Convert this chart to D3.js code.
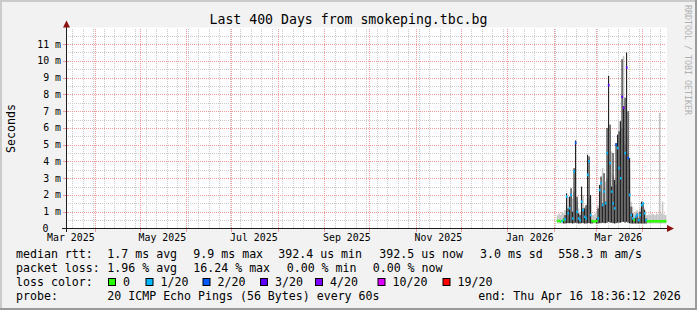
<!DOCTYPE html>
<html>
<head>
<meta charset="utf-8">
<script src="https://cdn.jsdelivr.net/npm/d3@7"></script>
<style>
    html, body { margin: 0; padding: 0; background: #f2f2f2; }
    svg { display: block; font-family: "DejaVu Sans Mono", monospace; }
</style>
</head>
<body>
<svg id="chart" width="697" height="310"></svg>
<script>
// == Daten ==
// Zeitraum des Graphen (400 Tage bis zum "end"-Zeitpunkt)
const GRAPH_START = new Date(Date.UTC(2025, 2, 12, 18, 36, 12));
const GRAPH_END = new Date(Date.UTC(2026, 3, 16, 18, 36, 12));
// Tageswerte ab 3. Feb 2026 bis 16. Apr 2026
const days = d3.utcDay.range(new Date(Date.UTC(2026, 1, 3)), new Date(Date.UTC(2026, 3, 17)));

// Untergrenze Smoke (ms)
const rttLow = [
    0.30, 0.30, 0.30, 0.30, 0.30, 0.30, 0.32, 0.32, 0.32, 0.32,
    0.30, 0.32, 0.35, 0.32, 0.30, 0.30, 0.32, 0.32, 0.30, 0.30,
    0.32, 0.32, 0.30, 0.30, 0.30, 0.30, 0.30, 0.30, 0.32, 0.32,
    0.35, 0.32, 0.32, 0.35, 0.40, 0.35, 0.35, 0.32, 0.30, 0.32,
    0.35, 0.35, 0.35, 0.40, 0.40, 0.35, 0.40, 0.35, 0.32, 0.30,
    0.30, 0.30, 0.30, 0.30, 0.30, 0.30, 0.30, 0.30, 0.30, 0.30,
    0.30, 0.30, 0.30, 0.30, 0.30, 0.30, 0.30, 0.30, 0.30, 0.30,
    0.30, 0.30, 0.30
];
// Obergrenze heller Smoke (ms)
const rttLight = [
    0.80, 0.90, 0.80, 1.00, 0.90, 1.10, 1.40, 1.90, 1.80, 2.00,
    1.80, 2.20, 3.00, 1.60, 1.20, 1.00, 1.80, 2.00, 1.30, 1.20,
    2.00, 1.80, 1.40, 0.80, 0.80, 0.90, 1.00, 1.40, 1.80, 2.20,
    3.60, 2.40, 2.80, 3.00, 4.50, 3.80, 4.60, 3.20, 2.00, 2.60,
    3.60, 6.40, 4.60, 6.00, 10.30, 5.00, 5.50, 4.50, 3.50, 1.60,
    1.30, 0.90, 1.00, 1.10, 0.90, 1.20, 1.40, 1.30, 1.20, 0.80,
    0.80, 0.85, 0.80, 0.90, 0.85, 0.80, 0.90, 0.85, 6.90, 0.90,
    1.60, 0.85, 0.80
];
// Obergrenze dichter (dunkler) Smoke (ms), 0 = keiner
const rttDark = [
    0, 0, 0, 0, 0.60, 0.80, 2.10, 1.20, 1.90, 2.40,
    1.00, 3.60, 5.25, 1.90, 0.90, 0.80, 2.50, 1.20, 1.20, 1.40,
    4.40, 4.30, 2.00, 0.50, 0, 0, 0.60, 1.20, 2.60, 3.10,
    1.50, 3.30, 1.60, 6.00, 9.10, 6.20, 2.50, 4.50, 2.90, 5.10,
    5.60, 5.80, 6.40, 10.10, 7.30, 7.80, 10.50, 7.00, 4.20, 1.30,
    0.90, 0.60, 0.70, 0.90, 0.60, 1.00, 1.60, 1.50, 1.10, 0.60,
    0, 0, 0, 0, 0, 0, 0, 0, 0, 0,
    0, 0, 0
];
// Median RTT (ms)
const rttMedian = [
    0.45, 0.45, 0.42, 0.45, 0.50, 0.55, 1.90, 0.90, 1.20, 2.00,
    0.60, 3.40, 5.10, 1.00, 0.60, 0.50, 1.60, 1.10, 0.70, 0.60,
    3.20, 4.00, 0.80, 0.45, 0.42, 0.42, 0.45, 0.60, 2.30, 2.70,
    1.40, 2.20, 1.50, 4.50, 8.55, 3.90, 2.20, 1.50, 1.20, 5.00,
    4.80, 3.60, 3.00, 7.85, 7.20, 4.50, 9.60, 4.20, 2.00, 0.80,
    0.60, 0.50, 0.70, 0.80, 0.50, 0.80, 1.40, 1.50, 0.90, 0.50,
    0.43, 0.43, 0.43, 0.43, 0.43, 0.43, 0.43, 0.43, 0.43, 0.43,
    0.43, 0.43, 0.43
];
// Paketverlust als Index in lossColors
const lossIdx = [
    0, 0, 0, 1, 0, 1, 1, 1, 1, 1,
    1, 1, 2, 1, 1, 1, 1, 1, 1, 1,
    1, 1, 1, 0, 0, 0, 0, 1, 1, 1,
    1, 1, 1, 1, 3, 1, 1, 1, 1, 2,
    1, 1, 1, 3, 4, 1, 3, 2, 1, 1,
    1, 0, 1, 1, 1, 1, 1, 1, 1, 1,
    0, 0, 0, 0, 0, 0, 0, 0, 0, 0,
    0, 0, 0
];

const lossColors = ['#26ff00', '#00b8ff', '#0059ff', '#5e00ff', '#7e00ff', '#dd00ff', '#ff0000'];
const lossLabels = ['0', '1/20', '2/20', '3/20', '4/20', '10/20', '19/20'];

const yTicks = [0, 1, 2, 3, 4, 5, 6, 7, 8, 9, 10, 11];
const yUnit = 'm';
const TITLE = 'Last 400 Days from smokeping.tbc.bg';
const Y_LABEL = 'Seconds';
const WATERMARK = 'RRDTOOL / TOBI OETIKER';

// Legendenzeilen
const rttStats = ['1.7 ms avg', '9.9 ms max', '392.4 us min', '392.5 us now', '3.0 ms sd', '558.3 m am/s'];
const lossStats = ['1.96 % avg', '16.24 % max', '0.00 % min', '0.00 % now'];
const probeText = '20 ICMP Echo Pings (56 Bytes) every 60s';
const endText = 'end: Thu Apr 16 18:36:12 2026';

// == Layout ==
const W = 697, H = 310;
const PLOT_L = 66, PLOT_R = 666, PLOT_T = 28.5, PLOT_B = 228.5;

const svg = d3.select('#chart');

const x = d3.scaleUtc().domain([GRAPH_START, GRAPH_END]).range([PLOT_L, PLOT_R]);
const y = d3.scaleLinear().domain([0, 11.93]).range([PLOT_B, PLOT_T]);

// Hintergrund + 3D-Rahmen
svg.append('rect').attr('width', W).attr('height', H).attr('fill', '#f2f2f2');
svg.append('rect').attr('x', 0).attr('y', 0).attr('width', W).attr('height', 2).attr('fill', '#cbcbcb');
svg.append('rect').attr('x', 0).attr('y', 0).attr('width', 2).attr('height', H).attr('fill', '#cbcbcb');
svg.append('rect').attr('x', 0).attr('y', H - 2).attr('width', W).attr('height', 2).attr('fill', '#9a9a9a');
svg.append('rect').attr('x', W - 2).attr('y', 0).attr('width', 2).attr('height', H).attr('fill', '#9a9a9a');

// Zeichenfläche
svg.append('rect')
    .attr('x', PLOT_L).attr('y', PLOT_T - 1)
    .attr('width', PLOT_R - PLOT_L + 1).attr('height', PLOT_B - PLOT_T + 1)
    .attr('fill', '#ffffff');

// == Gitter ==
const grid = svg.append('g').attr('shape-rendering', 'crispEdges');
const px = v => Math.round(v) + 0.5;

// Minor: wöchentlich (Montag) und 0.5 ms
const weeks = d3.utcMonday.range(GRAPH_START, GRAPH_END);
grid.selectAll('line.vmin').data(weeks).enter().append('line')
    .attr('x1', d => px(x(d))).attr('x2', d => px(x(d)))
    .attr('y1', PLOT_T).attr('y2', PLOT_B)
    .attr('stroke', '#cacaca').attr('stroke-dasharray', '1,1');
const halfSteps = yTicks.map(v => v + 0.5);
grid.selectAll('line.hmin').data(halfSteps).enter().append('line')
    .attr('x1', PLOT_L).attr('x2', PLOT_R)
    .attr('y1', d => px(y(d))).attr('y2', d => px(y(d)))
    .attr('stroke', '#cacaca').attr('stroke-dasharray', '1,1');

// Major: Monatsanfang und 1 ms
const months = d3.utcMonth.range(GRAPH_START, GRAPH_END);
grid.selectAll('line.vmaj').data(months).enter().append('line')
    .attr('x1', d => px(x(d))).attr('x2', d => px(x(d)))
    .attr('y1', PLOT_T).attr('y2', PLOT_B)
    .attr('stroke', '#f29a9a').attr('stroke-dasharray', '1,1');
grid.selectAll('line.hmaj').data(yTicks.slice(1)).enter().append('line')
    .attr('x1', PLOT_L).attr('x2', PLOT_R)
    .attr('y1', d => px(y(d))).attr('y2', d => px(y(d)))
    .attr('stroke', '#f29a9a').attr('stroke-dasharray', '1,1');

// == Smoke ==
const colW = d => x(d3.utcDay.offset(d, 1)) - x(d);
const smoke = svg.append('g');
smoke.selectAll('rect.light').data(days).enter().append('rect')
    .attr('x', d => x(d)).attr('width', d => colW(d))
    .attr('y', (d, i) => y(rttLight[i]))
    .attr('height', (d, i) => y(rttLow[i]) - y(rttLight[i]))
    .attr('fill', '#c4c4c4');
// dunkle Spitzen etwas schmaler, damit helle Fugen bleiben
smoke.selectAll('rect.dark').data(days).enter().append('rect')
    .attr('x', d => x(d) + 0.15).attr('width', d => colW(d) - 0.35)
    .attr('y', (d, i) => y(rttDark[i]))
    .attr('height', (d, i) => rttDark[i] > 0 ? y(rttLow[i]) - y(rttDark[i]) : 0)
    .attr('fill', '#242424');

// Median, eingefärbt nach Verlust
smoke.selectAll('rect.median').data(days).enter().append('rect')
    .attr('x', d => x(d)).attr('width', d => colW(d) + 0.2)
    .attr('y', (d, i) => y(rttMedian[i]) - 1.25)
    .attr('height', 2.5)
    .attr('fill', (d, i) => lossColors[lossIdx[i]]);

// == Achsen ==
const axis = svg.append('g').attr('shape-rendering', 'crispEdges');
// Ticks
axis.selectAll('line.xt').data(months).enter().append('line')
    .attr('x1', d => px(x(d))).attr('x2', d => px(x(d)))
    .attr('y1', PLOT_B - 2).attr('y2', PLOT_B + 3)
    .attr('stroke', '#f29a9a');
axis.selectAll('line.yt').data(yTicks.slice(1)).enter().append('line')
    .attr('x1', PLOT_L - 3).attr('x2', PLOT_L + 2)
    .attr('y1', d => px(y(d))).attr('y2', d => px(y(d)))
    .attr('stroke', '#f29a9a');

axis.append('line')
    .attr('x1', PLOT_L - 4).attr('x2', PLOT_R + 4)
    .attr('y1', PLOT_B).attr('y2', PLOT_B)
    .attr('stroke', '#1e1e1e');
axis.append('line')
    .attr('x1', PLOT_L + 0.5).attr('x2', PLOT_L + 0.5)
    .attr('y1', PLOT_B + 3).attr('y2', PLOT_T - 5)
    .attr('stroke', '#1e1e1e');
// Pfeile
svg.append('path')
    .attr('d', `M${PLOT_R + 1},${PLOT_B - 3.5} L${PLOT_R + 8},${PLOT_B} L${PLOT_R + 1},${PLOT_B + 3.5}Z`)
    .attr('fill', '#8b1010');
svg.append('path')
    .attr('d', `M${PLOT_L - 3},${PLOT_T - 1} L${PLOT_L + 0.5},${PLOT_T - 8} L${PLOT_L + 4},${PLOT_T - 1}Z`)
    .attr('fill', '#8b1010');

// X-Beschriftung: alle zwei Monate, zentriert auf Monatsmitte
const xLabelMonths = d3.utcMonth.every(2).range(new Date(Date.UTC(2025, 2, 1)), GRAPH_END);
const fmt = d3.utcFormat('%b %Y');
svg.selectAll('text.xl').data(xLabelMonths).enter().append('text')
    .attr('x', d => x(d3.utcDay.offset(d, 15)))
    .attr('y', 241)
    .attr('text-anchor', 'middle')
    .attr('font-size', '9.9px')
    .attr('fill', '#000')
    .text(d => fmt(d));

// Y-Beschriftung
svg.selectAll('text.yl').data(yTicks).enter().append('text')
    .attr('x', d => d === 0 ? 48.5 : 61)
    .attr('y', d => y(d) + 3.5)
    .attr('text-anchor', 'end')
    .attr('font-size', '9.9px')
    .attr('fill', '#000')
    .text(d => d === 0 ? '0' : d + ' ' + yUnit);

svg.append('text')
    .attr('transform', `translate(15,${(PLOT_T + PLOT_B) / 2}) rotate(-90)`)
    .attr('text-anchor', 'middle')
    .attr('font-size', '11.6px')
    .text(Y_LABEL);

// Titel
svg.append('text')
    .attr('x', W / 2).attr('y', 24)
    .attr('text-anchor', 'middle')
    .attr('font-size', '13.2px')
    .text(TITLE);

// Wasserzeichen
svg.append('text')
    .attr('transform', 'translate(685,5) rotate(90)')
    .attr('font-size', '8.3px')
    .attr('fill', '#b0b0b0')
    .text(WATERMARK);

// == Legende ==
const legend = svg.append('g').attr('font-size', '11.6px').attr('fill', '#000');
const LEG_X = 16, VAL_X = 107.3;
const lineY = [258, 272, 286, 300];

legend.append('text').attr('x', LEG_X).attr('y', lineY[0]).text('median rtt:');
const rttX = [VAL_X, 193.3, 278.3, 379.3, 480, 558.3];
rttStats.forEach((s, i) => legend.append('text').attr('x', rttX[i]).attr('y', lineY[0]).text(s));

legend.append('text').attr('x', LEG_X).attr('y', lineY[1]).text('packet loss:');
const lossX = [VAL_X, 193.3, 286.7, 372.7];
lossStats.forEach((s, i) => legend.append('text').attr('x', lossX[i]).attr('y', lineY[1]).text(s));

legend.append('text').attr('x', LEG_X).attr('y', lineY[2]).text('loss color:');
const boxX = [108.5, 146, 203, 260.5, 315.5, 378, 443];
lossColors.forEach((c, i) => {
    legend.append('rect')
        .attr('x', boxX[i]).attr('y', lineY[2] - 7.5)
        .attr('width', 7).attr('height', 7)
        .attr('fill', c).attr('stroke', '#000').attr('stroke-width', 1);
    legend.append('text').attr('x', boxX[i] + 14.5).attr('y', lineY[2]).text(lossLabels[i]);
});

legend.append('text').attr('x', LEG_X).attr('y', lineY[3]).text('probe:');
legend.append('text').attr('x', VAL_X).attr('y', lineY[3]).text(probeText);
legend.append('text').attr('x', 478.3).attr('y', lineY[3]).text(endText);
</script>
</body>
</html>
